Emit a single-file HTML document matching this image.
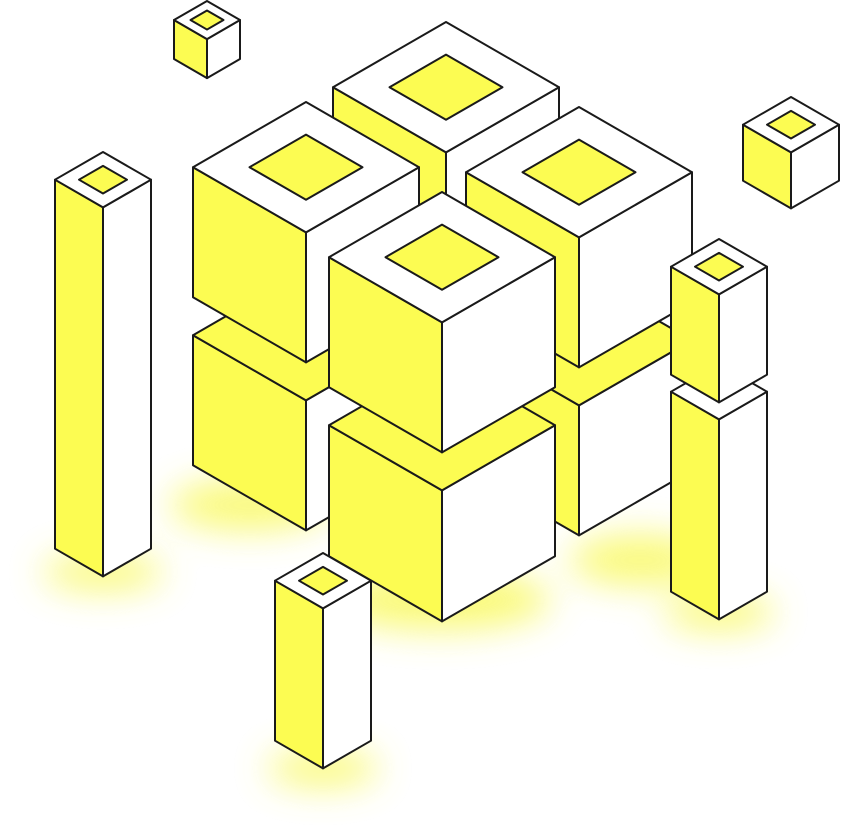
<!DOCTYPE html>
<html><head><meta charset="utf-8"><style>html,body{margin:0;padding:0;background:#fff}svg{display:block}</style></head>
<body>
<svg id="scene" width="841" height="838" viewBox="0 0 841 838" xmlns="http://www.w3.org/2000/svg">
<defs><filter id="blur" x="-50%" y="-50%" width="200%" height="200%"><feGaussianBlur stdDeviation="18"/></filter></defs>
<g id="glows" filter="url(#blur)" fill="#f8f84a" opacity="0.75"></g>
<g id="boxes" stroke="#1a1a1a" stroke-width="2" stroke-linejoin="round"></g>
</svg>
<script>
const NS="http://www.w3.org/2000/svg";
const Y="#fcfc52";
const boxNames=["small-cube-top-left","left-pillar","bottom-back-cube","bottom-left-cube","bottom-right-cube","bottom-front-cube","top-back-cube","top-left-cube","top-right-cube","top-front-cube","right-pillar-lower","right-pillar-upper","small-cube-right","front-pillar"];
const topX=[207,103,446,306,579,442,446,306,579,442,719,719,791,323];
const topY=[1,152,190,270,275,360,22,102,107,192,364,239,97,553];
const halfW=[33,48,113,113,113,113,113,113,113,113,48,48,48,48];
const heights=[39,369,130,130,130,131,130,130,130,130,200,108,56,160];
const yellowTop=[0,0,1,1,1,1,0,0,0,0,0,0,0,0];
const hasHole=[1,1,0,0,0,0,1,1,1,1,0,1,1,1];
const glowX=[103,250,440,640,719,323];
const glowY=[572,505,600,560,612,768];
const glowRX=[60,80,110,70,55,55];
const glowRY=[18,25,30,25,18,18];
const gl=document.getElementById('glows');
for(let i=0;i<glowX.length;i++){
  const e=document.createElementNS(NS,'ellipse');
  
  
  e.setAttribute('cx',glowX[i]);e.setAttribute('cy',glowY[i]);
  e.setAttribute('rx',glowRX[i]);e.setAttribute('ry',glowRY[i]);
  gl.appendChild(e);
}
const bx=document.getElementById('boxes');
function poly(g,pts,fill){
  const p=document.createElementNS(NS,'polygon');
  p.setAttribute('points',pts.map(q=>q.join(',')).join(' '));
  p.setAttribute('fill',fill);
  g.appendChild(p);return p;
}
for(let i=0;i<boxNames.length;i++){
  const tx=topX[i],ty=topY[i],w=halfW[i],hh=w*0.577,h=heights[i];
  const g=document.createElementNS(NS,'g');
  
  
  const T=[tx,ty],L=[tx-w,ty+hh],R=[tx+w,ty+hh],B=[tx,ty+2*hh];
  const d=q=>[q[0],q[1]+h];
  const lf=poly(g,[L,B,d(B),d(L)],Y);
  
  
  const rf=poly(g,[B,R,d(R),d(B)],'#fff');
  
  
  const tf=poly(g,[T,R,B,L],yellowTop[i]?Y:'#fff');
  
  
  if(hasHole[i]){
    const cx=tx,cy=ty+hh;
    const hole=poly(g,[[cx,cy-hh/2],[cx+w/2,cy],[cx,cy+hh/2],[cx-w/2,cy]],Y);
    
    
  }
  bx.appendChild(g);
}
</script>
</body></html>
